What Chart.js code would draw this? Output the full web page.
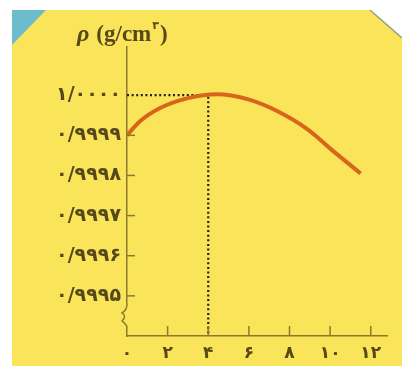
<!DOCTYPE html>
<html>
<head>
<meta charset="utf-8">
<script src="https://cdn.jsdelivr.net/npm/chart.js@4/dist/chart.umd.min.js"></script>
<style>
  html, body { margin: 0; padding: 0; background: #fff; }
  #wrap { width: 402px; height: 366px; }
</style>
</head>
<body>
<div id="wrap"><canvas id="chart" width="402" height="366"></canvas></div>
<script>
// water density near 0-12 C
const tempC   = [0, 0.64, 1.63, 2.96, 4.44, 5.93, 7.41, 8.89, 10.17, 11.5];
const density = [0.99990, 0.999935, 0.999968, 0.999992, 1.000002, 0.99999, 0.99996, 0.999915, 0.99986, 0.999805];

const xTicks = [0, 2, 4, 6, 8, 10, 12];
const xTickLabels = ['۰', '۲', '۴', '۶', '۸', '۱۰', '۱۲'];
const yTicks = [0.9995, 0.9996, 0.9997, 0.9998, 0.9999, 1.0000];
const yTickLabels = ['۰/۹۹۹۵', '۰/۹۹۹۶', '۰/۹۹۹۷', '۰/۹۹۹۸', '۰/۹۹۹۹', '۱/۰۰۰۰'];

const maxTemp = 4;      // dotted guide
const maxDensity = 1.0000;

const ink = '#564818';
const axisColor = '#8c7a2c';

const backdrop = {
  id: 'backdrop',
  beforeDraw(chart) {
    const c = chart.ctx;
    c.save();
    c.fillStyle = '#ffffff';
    c.fillRect(0, 0, 402, 366);
    c.fillStyle = '#f9e45a';
    c.beginPath();
    c.moveTo(12, 10);
    c.lineTo(370, 10);
    c.lineTo(402, 38);
    c.lineTo(402, 366);
    c.lineTo(12, 366);
    c.closePath();
    c.fill();
    c.strokeStyle = '#9a9a80';
    c.lineWidth = 1.5;
    c.beginPath();
    c.moveTo(370, 10);
    c.lineTo(402, 38);
    c.stroke();
    c.fillStyle = '#6cbccc';
    c.beginPath();
    c.moveTo(12, 10);
    c.lineTo(46, 10);
    c.lineTo(12, 45);
    c.closePath();
    c.fill();
    c.restore();
  },
  afterDraw(chart) {
    const c = chart.ctx;
    const xs = chart.scales.x, ys = chart.scales.y;
    const x0 = xs.left;
    c.save();
    c.strokeStyle = axisColor;
    c.lineWidth = 1.5;
    // inner tick marks
    yTicks.forEach(v => {
      if (v === maxDensity) return;
      const y = ys.getPixelForValue(v);
      c.beginPath(); c.moveTo(x0, y); c.lineTo(x0 + 8, y); c.stroke();
    });
    xTicks.forEach(v => {
      if (v === 0) return;
      const x = xs.getPixelForValue(v);
      c.beginPath(); c.moveTo(x, ys.bottom); c.lineTo(x, ys.bottom - 10); c.stroke();
    });
    // axis break squiggle
    const yb = ys.getPixelForValue(0.99945);
    c.fillStyle = '#f9e45a';
    c.fillRect(x0 - 2, yb - 12, 4, 24);
    c.beginPath();
    c.moveTo(x0, yb - 12);
    c.quadraticCurveTo(x0, yb - 6, x0 - 5, yb - 3);
    c.quadraticCurveTo(x0, yb, x0 - 5, yb + 5);
    c.quadraticCurveTo(x0, yb + 9, x0, yb + 12);
    c.stroke();
    // axis title
    c.fillStyle = ink;
    c.textBaseline = 'alphabetic';
    let x = 77;
    c.font = 'italic bold 24px "Liberation Serif"';
    c.fillText('ρ', x, 41);
    x += c.measureText('ρ').width + 7;
    c.font = 'bold 23px "Liberation Serif"';
    c.fillText('(g/cm', x, 41);
    x += c.measureText('(g/cm').width + 1;
    c.font = 'bold 11px "DejaVu Sans"';
    c.fillText('۳', x, 29);
    x += c.measureText('۳').width + 1;
    c.font = 'bold 23px "Liberation Serif"';
    c.fillText(')', x, 41);
    c.restore();
  }
};

new Chart(document.getElementById('chart'), {
  type: 'line',
  data: {
    datasets: [
      {
        data: tempC.map((t, i) => ({ x: t, y: density[i] })),
        borderColor: '#d8651c',
        borderWidth: 4,
        pointRadius: 0,
        cubicInterpolationMode: 'monotone',
        fill: false
      },
      {
        data: [{ x: 0, y: maxDensity }, { x: maxTemp, y: maxDensity }, { x: maxTemp, y: 0.9994 }],
        borderColor: '#222',
        borderWidth: 2.2,
        borderDash: [2, 2.6],
        pointRadius: 0,
        tension: 0,
        fill: false
      }
    ]
  },
  options: {
    responsive: false,
    animation: false,
    layout: { padding: { top: 47, right: 15, left: 0, bottom: 0 } },
    plugins: { legend: { display: false }, tooltip: { enabled: false } },
    scales: {
      x: {
        type: 'linear',
        min: 0,
        max: 12.8,
        afterBuildTicks: s => { s.ticks = xTicks.map(v => ({ value: v })); },
        afterFit: s => { s.height = 30; },
        grid: { display: false, drawTicks: false },
        border: { display: true, color: axisColor, width: 1.5 },
        ticks: {
          padding: 7,
          color: ink,
          font: { family: 'DejaVu Sans', size: 17, weight: 'bold' },
          maxRotation: 0,
          callback: (v, i) => xTickLabels[i]
        }
      },
      y: {
        type: 'linear',
        min: 0.9994,
        max: 1.00012,
        afterBuildTicks: s => { s.ticks = yTicks.map(v => ({ value: v })); },
        afterFit: s => { s.width = 127; },
        grid: { display: false, drawTicks: false },
        border: { display: true, color: axisColor, width: 1.5 },
        ticks: {
          padding: 6,
          color: ink,
          font: { family: 'DejaVu Sans', size: 19, weight: 'bold' },
          callback: (v, i) => yTickLabels[i]
        }
      }
    }
  },
  plugins: [backdrop]
});
</script>
</body>
</html>
